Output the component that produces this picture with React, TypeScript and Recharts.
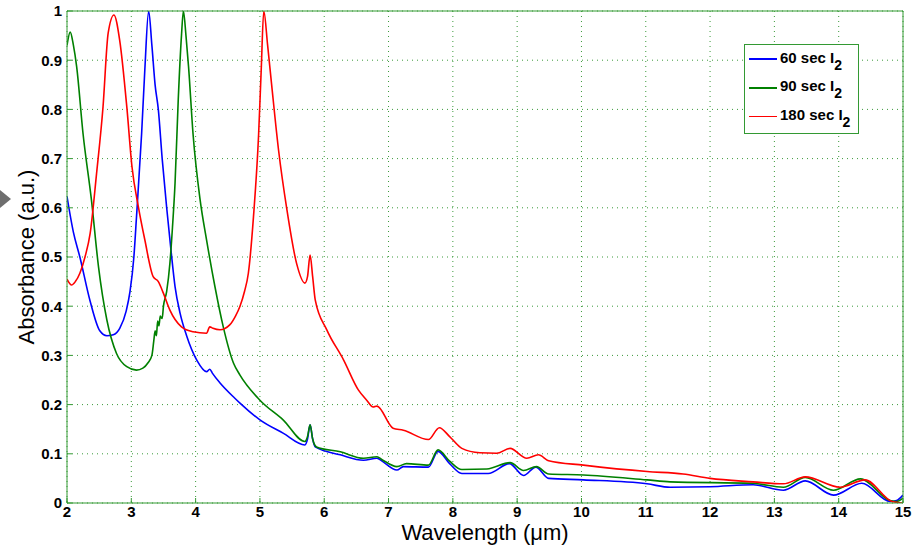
import React from 'react';
import { LineChart, Line, XAxis, YAxis, CartesianGrid, Legend } from 'recharts';

const wl60 = [2.0, 2.1, 2.2, 2.36, 2.51, 2.62, 2.72, 2.82, 2.92, 2.98, 3.04, 3.08, 3.16, 3.21, 3.27, 3.32, 3.37, 3.42, 3.48, 3.55, 3.62, 3.68, 3.76, 3.86, 4.02, 4.17, 4.22, 4.26, 4.38, 4.61, 4.69, 5.0, 5.36, 5.7, 5.74, 5.78, 5.82, 5.86, 6.25, 6.61, 6.82, 6.9, 7.13, 7.23, 7.62, 7.77, 7.95, 8.14, 8.55, 8.88, 9.1, 9.29, 9.49, 10.03, 11.02, 11.38, 12.0, 12.67, 13.14, 13.48, 13.92, 14.36, 14.8, 14.9, 15.0];
const ab60 = [0.623, 0.55, 0.5, 0.41, 0.35, 0.34, 0.342, 0.355, 0.39, 0.43, 0.5, 0.58, 0.75, 0.88, 1.0, 0.93, 0.85, 0.8, 0.7, 0.6, 0.51, 0.44, 0.385, 0.34, 0.29, 0.267, 0.272, 0.264, 0.244, 0.213, 0.203, 0.169, 0.142, 0.118, 0.13, 0.159, 0.13, 0.114, 0.098, 0.087, 0.091, 0.085, 0.067, 0.074, 0.073, 0.105, 0.08, 0.06, 0.06, 0.08, 0.056, 0.073, 0.05, 0.047, 0.039, 0.032, 0.033, 0.037, 0.026, 0.045, 0.016, 0.04, 0.003, 0.005, 0.016];

const wl90 = [2.0, 2.05, 2.1, 2.15, 2.25, 2.38, 2.49, 2.62, 2.77, 2.93, 3.08, 3.18, 3.26, 3.32, 3.35, 3.37, 3.39, 3.41, 3.43, 3.45, 3.48, 3.5, 3.55, 3.6, 3.64, 3.68, 3.73, 3.78, 3.81, 3.85, 3.89, 3.96, 4.07, 4.17, 4.3, 4.43, 4.59, 4.69, 5.0, 5.36, 5.7, 5.74, 5.78, 5.82, 5.88, 6.25, 6.61, 6.82, 6.9, 7.13, 7.28, 7.62, 7.77, 7.95, 8.14, 8.53, 8.89, 9.1, 9.3, 9.49, 10.03, 11.02, 11.38, 12.67, 13.14, 13.48, 13.92, 14.34, 14.8, 14.9, 15.0];
const ab90 = [0.93, 0.957, 0.93, 0.887, 0.75, 0.616, 0.48, 0.372, 0.304, 0.277, 0.27, 0.274, 0.285, 0.3, 0.33, 0.35, 0.34, 0.37, 0.36, 0.38, 0.375, 0.4, 0.43, 0.487, 0.56, 0.65, 0.82, 0.95, 1.0, 0.95, 0.887, 0.75, 0.616, 0.535, 0.44, 0.358, 0.284, 0.26, 0.209, 0.169, 0.125, 0.135, 0.159, 0.13, 0.114, 0.104, 0.091, 0.094, 0.088, 0.074, 0.08, 0.077, 0.108, 0.085, 0.068, 0.069, 0.082, 0.066, 0.074, 0.059, 0.057, 0.047, 0.043, 0.04, 0.032, 0.052, 0.026, 0.049, 0.005, 0.003, 0.01];

const wl180 = [2.0, 2.07, 2.13, 2.2, 2.28, 2.36, 2.46, 2.56, 2.64, 2.73, 2.82, 2.93, 3.01, 3.11, 3.21, 3.34, 3.42, 3.5, 3.6, 3.78, 3.96, 4.17, 4.22, 4.27, 4.38, 4.53, 4.62, 4.69, 4.76, 4.82, 4.9, 4.98, 5.02, 5.06, 5.12, 5.18, 5.29, 5.42, 5.57, 5.7, 5.74, 5.78, 5.82, 5.86, 6.04, 6.3, 6.53, 6.66, 6.76, 6.82, 7.07, 7.23, 7.62, 7.79, 7.95, 8.14, 8.42, 8.68, 8.89, 9.15, 9.33, 9.49, 10.03, 11.02, 11.58, 12.0, 12.67, 13.14, 13.48, 14.02, 14.41, 14.83, 15.0];
const ab180 = [0.455, 0.443, 0.45, 0.467, 0.5, 0.548, 0.67, 0.805, 0.955, 0.992, 0.94, 0.805, 0.684, 0.602, 0.535, 0.46, 0.45, 0.426, 0.392, 0.358, 0.348, 0.345, 0.358, 0.355, 0.352, 0.362, 0.38, 0.4, 0.43, 0.467, 0.582, 0.75, 0.88, 1.0, 0.93, 0.853, 0.717, 0.596, 0.487, 0.447, 0.46, 0.504, 0.46, 0.413, 0.352, 0.291, 0.23, 0.209, 0.195, 0.197, 0.152, 0.148, 0.129, 0.153, 0.135, 0.111, 0.102, 0.101, 0.111, 0.091, 0.098, 0.086, 0.077, 0.064, 0.059, 0.05, 0.043, 0.039, 0.053, 0.032, 0.047, 0.003, 0.0];

const xTicks = [2, 3, 4, 5, 6, 7, 8, 9, 10, 11, 12, 13, 14, 15];
const yTicks = [0, 0.1, 0.2, 0.3, 0.4, 0.5, 0.6, 0.7, 0.8, 0.9, 1];
const seriesLabels = ['60 sec I', '90 sec I', '180 sec I'];
const subscript = '2';
const seriesColors = ['#0000ff', '#008000', '#ff0000'];

const zip = (xs: number[], ys: number[]) => xs.map((x, i) => ({ x, y: ys[i] }));

const FONT = '"Liberation Sans", Arial, Helvetica, sans-serif';
const AXIS = '#339933';

const tickStyle = { fill: '#000', fontSize: 15, fontWeight: 'bold' as const, fontFamily: FONT };

const renderYLabel = (props: any) => {
  const vb = props.viewBox || { x: 0, y: 0, width: 0, height: 0 };
  const cx = vb.x + 26;
  const cy = vb.y + vb.height / 2;
  return (
    <text
      x={cx}
      y={cy}
      transform={`rotate(-90 ${cx} ${cy})`}
      textAnchor="middle"
      dominantBaseline="central"
      fontSize={22}
      fontFamily={FONT}
      fill="#000"
    >
      Absorbance (a.u.)
    </text>
  );
};

const renderLegend = (props: any) => {
  const payload = [...(props.payload || [])];
  const names = seriesLabels.map((s) => s + subscript);
  payload.sort((a: any, b: any) => names.indexOf(a.value) - names.indexOf(b.value));
  return (
    <div
      style={{
        width: 113,
        height: 88,
        border: `1px solid ${AXIS}`,
        background: '#fff',
        fontFamily: FONT,
      }}
    >
      {payload.map((entry: any, i: number) => {
        const idx = names.indexOf(entry.value);
        return (
          <div key={i} style={{ display: 'flex', alignItems: 'center', height: 28.6 }}>
            <div style={{ width: 28, height: idx === 0 ? 2 : 1.5, background: entry.color, marginLeft: 4, marginRight: 3 }} />
            <span style={{ fontSize: 15, fontWeight: 'bold', color: '#000', position: 'relative', top: -2, whiteSpace: 'nowrap' }}>
              {seriesLabels[idx]}
              <span style={{ position: 'relative', top: 7, fontSize: 14 }}>{subscript}</span>
            </span>
          </div>
        );
      })}
    </div>
  );
};

export default function App() {
  const series = [zip(wl60, ab60), zip(wl90, ab90), zip(wl180, ab180)];
  return (
    <div style={{ position: 'absolute', left: 0, top: 0, width: 922, height: 548, background: '#fff' }}>
      <svg width={14} height={24} style={{ position: 'absolute', left: 0, top: 189 }}>
        <polygon points="0,1 11,10 0,19" fill="#6e6e6e" />
      </svg>
      <LineChart width={922} height={548} margin={{ top: 0, right: 0, bottom: 0, left: 0 }}>
        <CartesianGrid stroke="#3a9a3a" strokeDasharray="1 4" />
        <XAxis
          type="number"
          dataKey="x"
          domain={[2, 15]}
          ticks={xTicks}
          allowDataOverflow
          height={45}
          stroke={AXIS}
          tickSize={-5}
          tickMargin={8}
          tick={tickStyle}
          label={{ value: 'Wavelength (μm)', position: 'insideBottom', offset: 8, fontSize: 22, fill: '#000', fontFamily: FONT }}
        />
        <XAxis
          xAxisId="top"
          orientation="top"
          type="number"
          domain={[2, 15]}
          ticks={xTicks}
          height={11}
          stroke={AXIS}
          tickSize={-5}
          tick={false}
        />
        <YAxis
          type="number"
          domain={[0, 1]}
          ticks={yTicks}
          allowDataOverflow
          width={67}
          stroke={AXIS}
          tickSize={-5}
          tickMargin={10}
          tick={tickStyle}
          label={renderYLabel}
        />
        <YAxis
          yAxisId="right"
          orientation="right"
          type="number"
          domain={[0, 1]}
          ticks={yTicks}
          width={19}
          stroke={AXIS}
          tickSize={-5}
          tick={false}
        />
        {series.map((d, i) => (
          <Line
            key={i}
            data={d}
            dataKey="y"
            type="monotone"
            name={seriesLabels[i] + subscript}
            stroke={seriesColors[i]}
            strokeWidth={1.6}
            dot={false}
            activeDot={false}
            isAnimationActive={false}
          />
        ))}
        <Legend
          layout="vertical"
          align="center"
          verticalAlign="middle"
          content={renderLegend}
          wrapperStyle={{ left: 744, top: 44, width: 115, height: 90 }}
        />
      </LineChart>
    </div>
  );
}
